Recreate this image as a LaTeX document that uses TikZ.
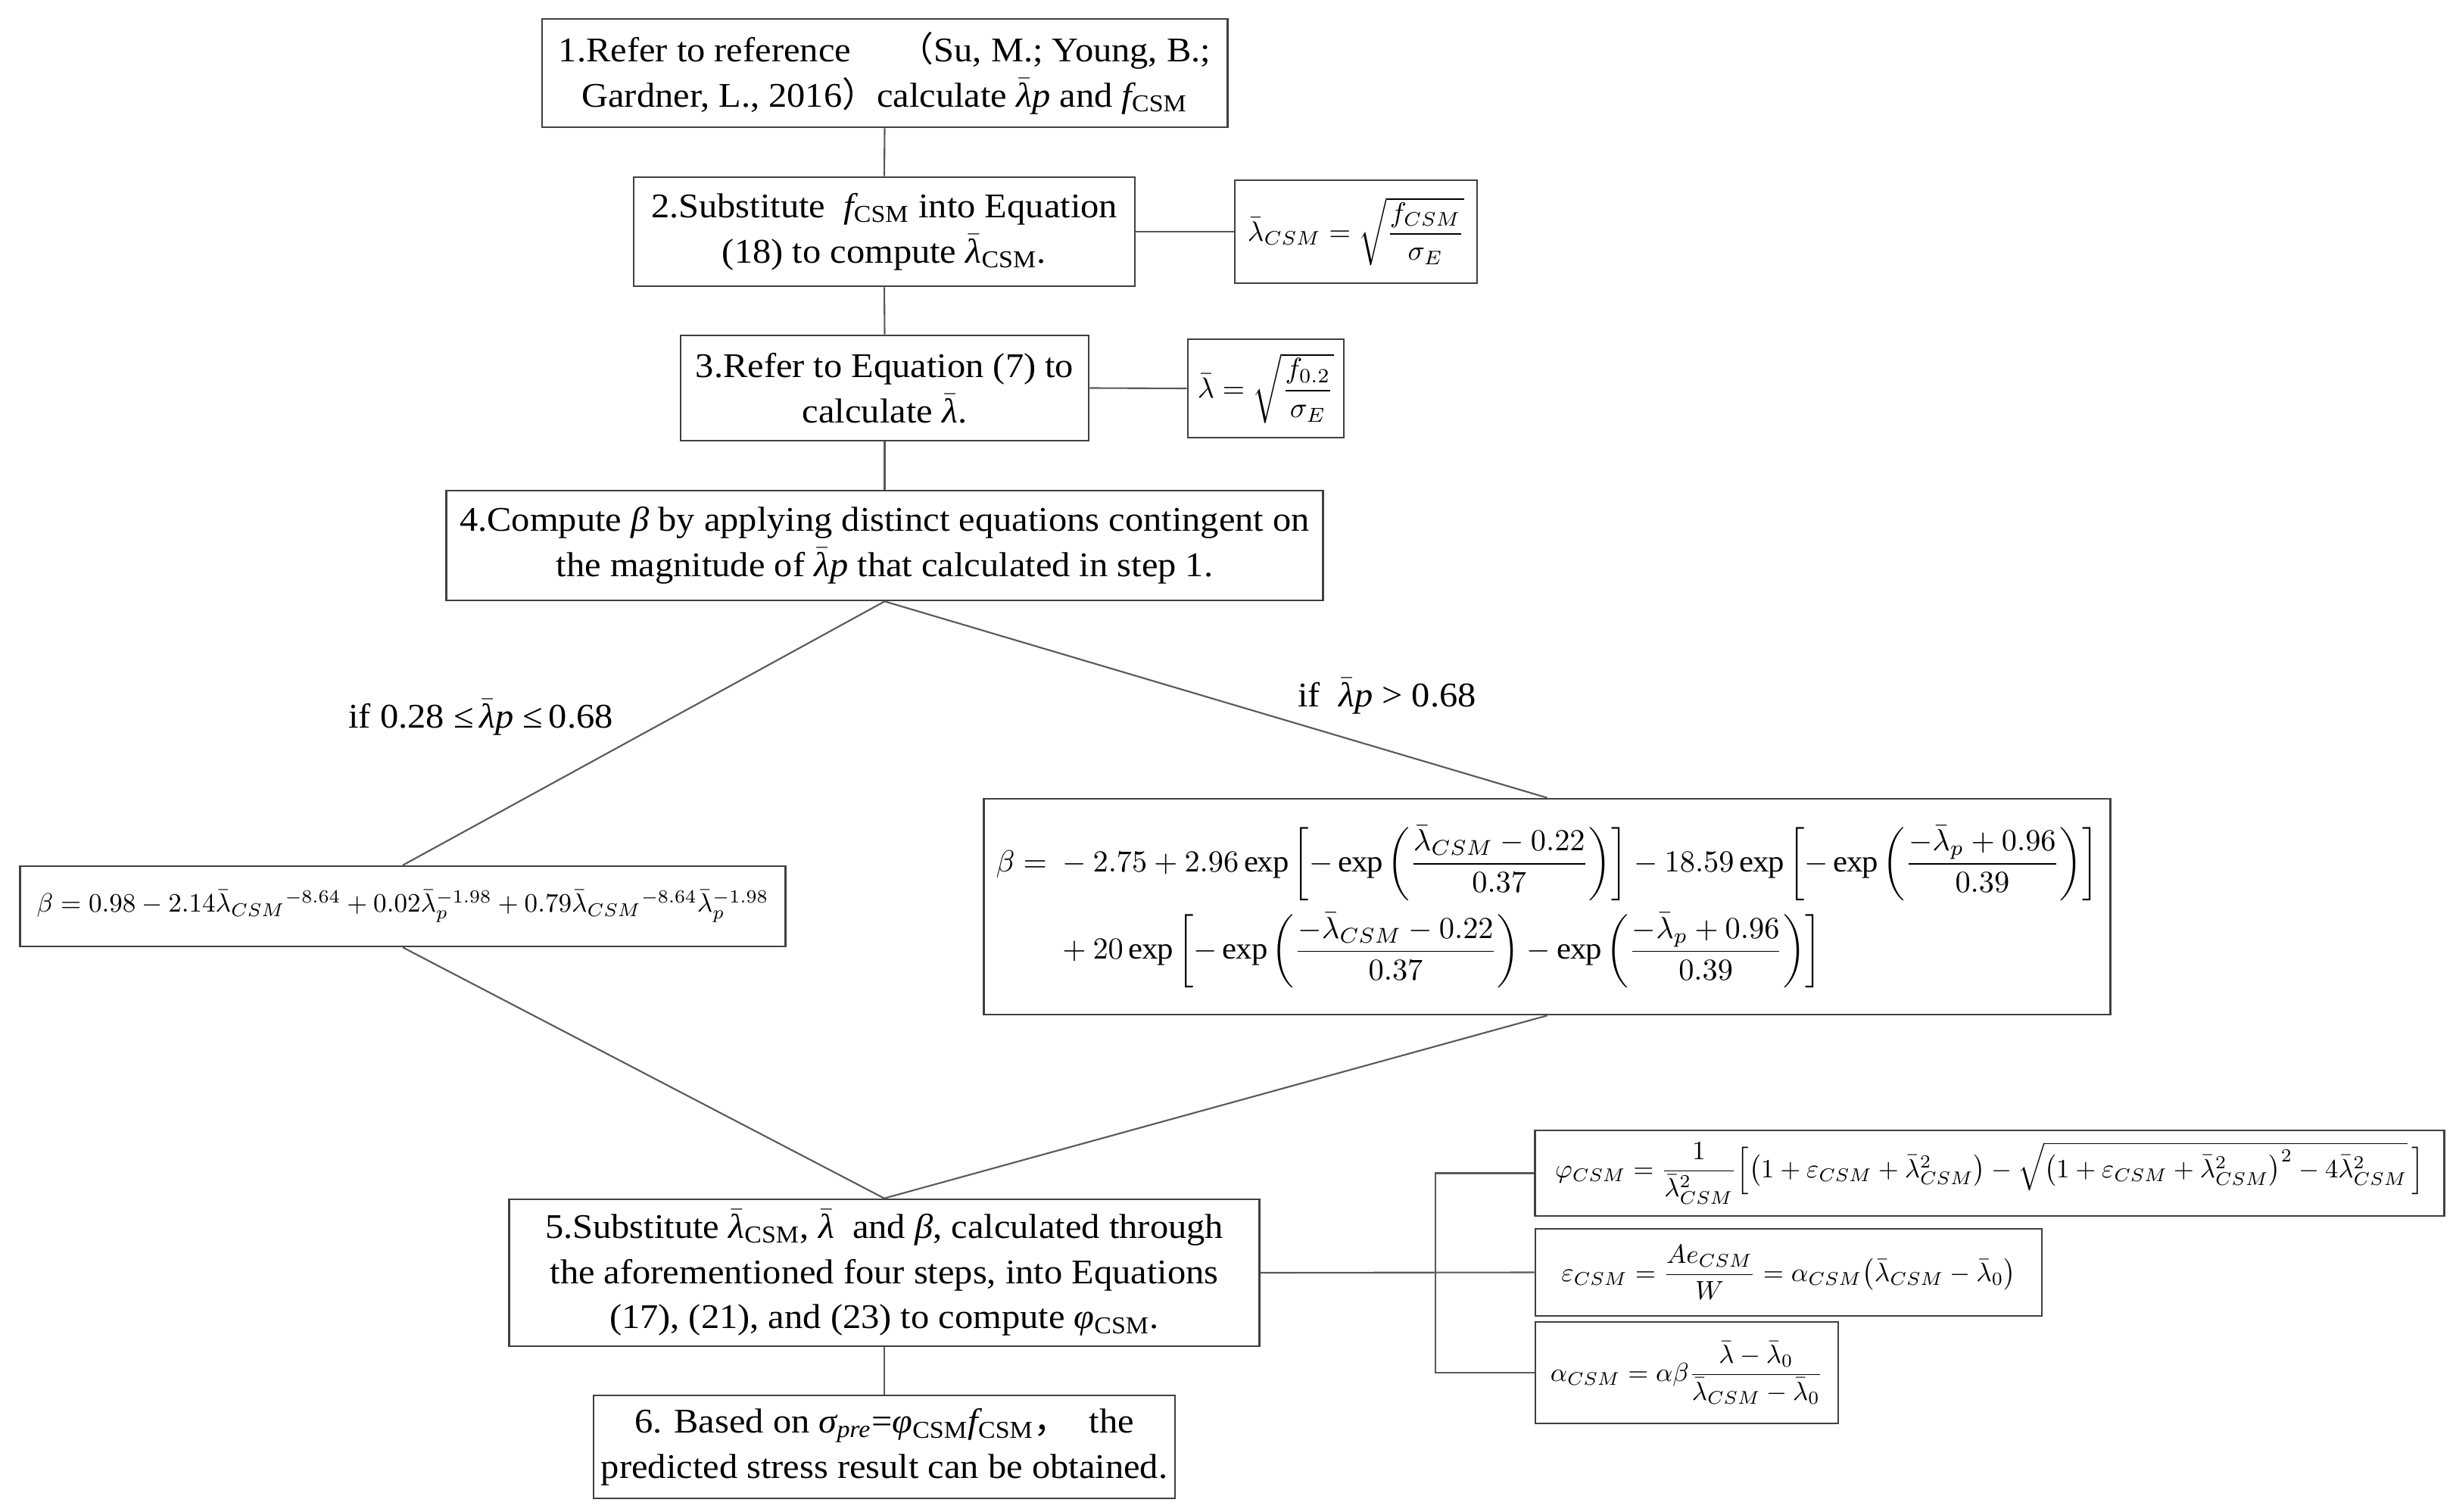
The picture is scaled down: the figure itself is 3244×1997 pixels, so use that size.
\documentclass[tikz,border=0pt]{standalone}
\usepackage{amsmath}
\usepackage{graphicx}
\usepackage{fontspec}
\setmainfont{Liberation Serif}[FakeStretch=1.06]
\newfontfamily\cjk{Noto Sans CJK SC}
\newcommand{\lbar}{\ensuremath{\bar{\hbox{\itshape λ}}}}
\newcommand{\mysub}[1]{\textsubscript{#1}}
\begin{document}
\begin{tikzpicture}[x=0.01cm,y=-0.01cm,
  box/.style={draw=black!75, line width=0.7pt, inner sep=0pt, align=center, font=\fontsize{13}{17}\selectfont},
  eqbox/.style={draw=black!75, line width=0.7pt, inner sep=0pt},
  conn/.style={draw=black!65, line width=0.6pt},
  lbl/.style={font=\fontsize{13}{17}\selectfont, inner sep=0pt}]
\useasboundingbox[fill=white] (0,0) rectangle (3244,1997);

\node[box, minimum width=9.05cm, minimum height=1.43cm] (b1) at (1168.5,96.5)
  {1.Refer to reference\hspace{1.4em}{\cjk （}Su, M.; Young, B.;\\
   Gardner, L., 2016{\cjk ）}calculate \lbar{\itshape p} and {\itshape f}\mysub{CSM}};
\node[box, minimum width=6.62cm, minimum height=1.44cm] (b2) at (1168,306)
  {2.Substitute \ {\itshape f}\mysub{CSM} into Equation\\(18) to compute \lbar\mysub{CSM}.};
\node[eqbox, minimum width=3.20cm, minimum height=1.36cm] (lc) at (1791,306)
  {\resizebox{2.86cm}{!}{$\bar{\lambda}_{CSM}=\sqrt{\dfrac{f_{CSM}}{\sigma_E}}$}};
\node[box, minimum width=5.39cm, minimum height=1.39cm] (b3) at (1168.5,512.5)
  {3.Refer to Equation (7) to\\calculate \lbar.};
\node[eqbox, minimum width=2.06cm, minimum height=1.30cm] (lb) at (1672,513)
  {\resizebox{1.80cm}{!}{$\bar{\lambda}=\sqrt{\dfrac{f_{0.2}}{\sigma_E}}$}};
\node[box, minimum width=11.57cm, minimum height=1.45cm] (b4) at (1168.5,720.5)
  {4.Compute {\itshape β} by applying distinct equations contingent on\\the magnitude of \lbar{\itshape p} that calculated in step 1.};

\node[lbl] (l1) at (635,947) {if 0.28 ≤\,\lbar{\itshape p} ≤\,0.68};
\node[lbl] (l2) at (1832,919) {if \ \lbar{\itshape p} > 0.68};

\node[eqbox, minimum width=10.10cm, minimum height=1.06cm] (bl) at (532,1197)
  {\resizebox{9.66cm}{!}{$\beta=0.98-2.14\bar{\lambda}_{CSM}{}^{-8.64}+0.02\bar{\lambda}_p^{-1.98}+0.79\bar{\lambda}_{CSM}{}^{-8.64}\bar{\lambda}_p^{-1.98}$}};
\node[eqbox, minimum width=14.87cm, minimum height=2.85cm] (br) at (2043.5,1197.5)
  {\resizebox{14.55cm}{!}{$\begin{aligned}\beta={}&-2.75+2.96\exp\left[-\exp\left(\frac{\bar{\lambda}_{CSM}-0.22}{0.37}\right)\right]-18.59\exp\left[-\exp\left(\frac{-\bar{\lambda}_p+0.96}{0.39}\right)\right]\\
   &+20\exp\left[-\exp\left(\frac{-\bar{\lambda}_{CSM}-0.22}{0.37}\right)-\exp\left(\frac{-\bar{\lambda}_p+0.96}{0.39}\right)\right]\end{aligned}$}};

\node[box, minimum width=9.90cm, minimum height=1.94cm] (b5) at (1168,1681)
  {5.Substitute \lbar\mysub{CSM}, \lbar\ \ and {\itshape β}, calculated through\\the aforementioned four steps, into Equations\\(17), (21), and (23) to compute {\itshape φ}\mysub{CSM}.};
\node[box, minimum width=7.68cm, minimum height=1.36cm] (b6) at (1168,1911)
  {6. Based on {\itshape σ}\mysub{\itshape pre}={\itshape φ}\mysub{CSM}{\itshape f}\mysub{CSM}{\cjk ，}\hspace{0.6em}the\\predicted stress result can be obtained.};

\node[eqbox, minimum width=12.00cm, minimum height=1.13cm] (phi) at (2628,1549.5)
  {\resizebox{11.47cm}{!}{$\varphi_{CSM}=\dfrac{1}{\bar{\lambda}_{CSM}^2}\Bigl[\bigl(1+\varepsilon_{CSM}+\bar{\lambda}_{CSM}^2\bigr)-\sqrt{\bigl(1+\varepsilon_{CSM}+\bar{\lambda}_{CSM}^2\bigr)^2-4\bar{\lambda}_{CSM}^2}\,\Bigr]$}};
\node[eqbox, minimum width=6.69cm, minimum height=1.15cm] (eps) at (2362.5,1680.5)
  {\resizebox{6.0cm}{!}{$\varepsilon_{CSM}=\dfrac{Ae_{CSM}}{W}=\alpha_{CSM}\bigl(\bar{\lambda}_{CSM}-\bar{\lambda}_0\bigr)$}};
\node[eqbox, minimum width=4.00cm, minimum height=1.34cm] (al) at (2228,1813)
  {\resizebox{3.6cm}{!}{$\alpha_{CSM}=\alpha\beta\dfrac{\bar{\lambda}-\bar{\lambda}_0}{\bar{\lambda}_{CSM}-\bar{\lambda}_0}$}};

\coordinate (j) at (1896,1681);

\draw[conn] (b1.south) -- (b2.north);
\draw[conn] (b2.south) -- (b3.north);
\draw[conn] (b3.south) -- (b4.north);
\draw[conn] (b5.south) -- (b6.north);
\draw[conn] (b2.east) -- (lc.west);
\draw[conn] (b3.east) -- (lb.west);
\draw[conn] (b4.south) -- (bl.north);
\draw[conn] (b4.south) -- (br.north);
\draw[conn] (bl.south) -- (b5.north);
\draw[conn] (br.south) -- (b5.north);
\draw[conn] (b5.east) -- (eps.west);
\draw[conn] (phi.west) -- (phi.west -| j) -- (al.west -| j) -- (al.west);
\end{tikzpicture}
\end{document}
